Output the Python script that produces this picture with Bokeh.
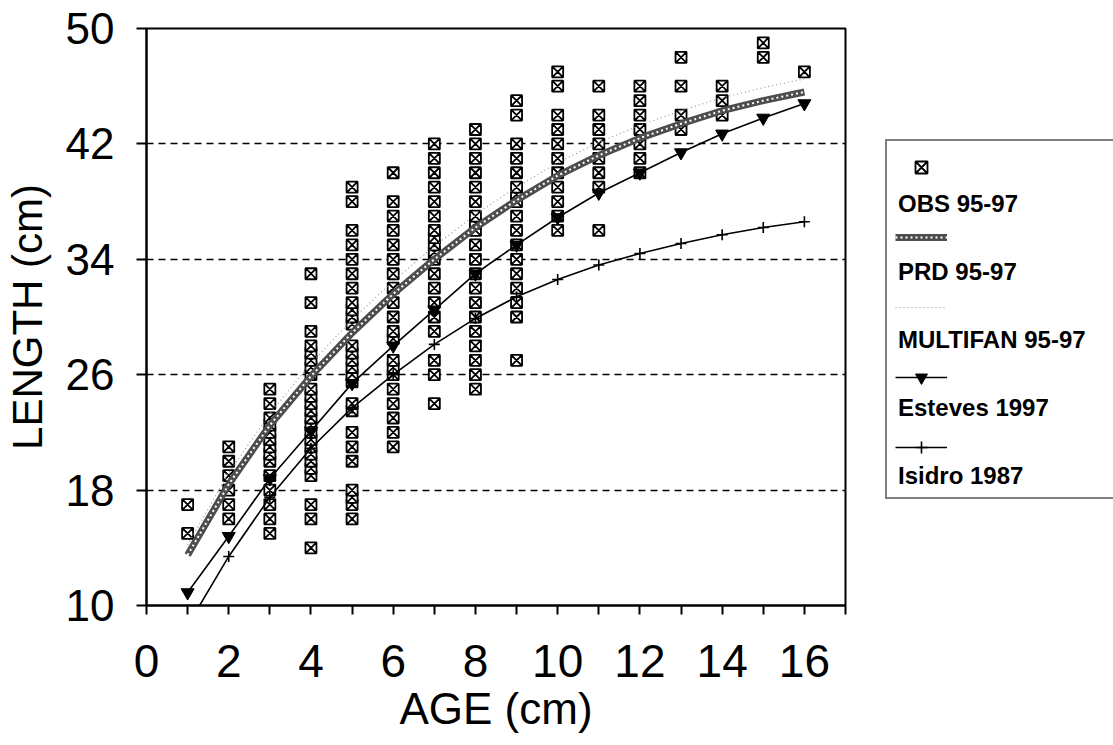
from bokeh.plotting import figure
from bokeh.models import Range1d, FixedTicker, Legend, LegendItem
from bokeh.layouts import row
from bokeh.embed import file_html
from bokeh.resources import INLINE

# ---------------- data ----------------
ages = list(range(1, 17))

obs_1 = [15, 17]
obs_2 = [16, 17, 18, 19, 20, 21]
obs_3 = [15, 16, 17, 18, 19, 20, 20.5, 21, 21.5, 22, 22.5, 23, 24, 25]
obs_4 = [14, 16, 17, 19, 19.5, 20, 20.5, 21, 21.5, 22, 22.5, 23, 23.5, 24,
         24.5, 25, 26, 26.5, 27, 27.5, 28, 29, 31, 33]
obs_5 = [16, 17, 17.5, 18, 20, 21, 22, 23.5, 24, 25.5, 26, 26.5, 27, 27.5,
         28, 29.5, 30, 30.5, 31, 32, 33, 34, 35, 36, 38, 39]
obs_6 = [21, 22, 23, 24, 25, 26, 26.5, 27, 28.5, 29, 30, 31, 32, 33, 34, 35,
         36, 37, 38, 40]
obs_7 = [24, 26, 27, 29, 30, 31, 32, 33, 34, 34.5, 35, 35.5, 36, 37, 38, 39,
         40, 41, 42]
obs_8 = [25, 26, 27, 28, 29, 30, 31, 32, 33, 34, 35, 36, 36.5, 37, 38, 39,
         40, 41, 42, 43]
obs_9 = [27, 30, 31, 32, 33, 34, 35, 36, 37, 38, 38.5, 39, 40, 41, 42, 44, 45]
obs_10 = [36, 37, 38, 39, 40, 41, 42, 43, 44, 46, 47]
obs_11 = [36, 39, 40, 41, 42, 43, 44, 46]
obs_12 = [40, 41, 42, 43, 44, 45, 46]
obs_13 = [43, 44, 46, 48]
obs_14 = [44, 45, 46]
obs_15 = [48, 49]
obs_16 = [47]
obs_columns = [obs_1, obs_2, obs_3, obs_4, obs_5, obs_6, obs_7, obs_8,
               obs_9, obs_10, obs_11, obs_12, obs_13, obs_14, obs_15, obs_16]

prd = [13.5, 18.4, 22.5, 25.9, 28.9, 31.6, 34.0, 36.2, 38.1, 39.8, 41.2,
       42.4, 43.4, 44.3, 45.0, 45.6]
multifan = [14.2, 19.2, 23.3, 26.8, 29.8, 32.5, 34.9, 37.1, 39.0, 40.7, 42.1,
            43.3, 44.3, 45.2, 45.9, 46.5]
esteves = [10.9, 14.8, 18.8, 22.1, 25.4, 28.0, 30.5, 33.0, 35.0, 36.9, 38.6,
           40.0, 41.4, 42.7, 43.8, 44.8]
isidro = [8.6, 13.4, 17.5, 20.9, 23.7, 26.0, 28.1, 29.9, 31.4, 32.6, 33.6,
          34.4, 35.1, 35.7, 36.2, 36.6]

series_labels = ["OBS 95-97", "PRD 95-97", "MULTIFAN 95-97", "Esteves 1997",
                 "Isidro 1987"]
x_ticks = [0, 2, 4, 6, 8, 10, 12, 14, 16]
x_minor_ticks = [1, 3, 5, 7, 9, 11, 13, 15, 17]
y_ticks = [10, 18, 26, 34, 42, 50]

obs_age = [a for a, col in zip(ages, obs_columns) for _ in col]
obs_len = [v for col in obs_columns for v in col]

FONT = "Liberation Sans"

# ---------------- styles ----------------
OBS_STYLE = dict(marker="square_x", size=11, line_color="black",
                 line_width=1.8, fill_color="white")
MULTI_STYLE = dict(line_color="#9a9a9a", line_width=1.2, line_dash="1 3")
PRD_STYLE = dict(line_color="#4d4d4d", line_width=7)
PRD2_STYLE = dict(line_color="white", line_width=2, line_dash="2 3")
LINE_STYLE = dict(line_color="black", line_width=1.6)
TRI_STYLE = dict(marker="inverted_triangle", size=13, fill_color="black",
                 line_color="black")
PLUS_STYLE = dict(marker="cross", size=11, line_color="black", line_width=1.6)

# ---------------- main figure ----------------
p = figure(width=870, height=745, x_range=Range1d(0, 17),
           y_range=Range1d(10, 50), output_backend="svg",
           toolbar_location=None, min_border_left=146, min_border_right=25,
           min_border_top=28, min_border_bottom=140)
p.background_fill_color = "white"
p.border_fill_color = "white"
p.outline_line_color = "black"
p.outline_line_width = 2

xa = p.xaxis[0]
xa.ticker = FixedTicker(ticks=x_ticks, minor_ticks=x_minor_ticks)
xa.axis_label = "AGE (cm)"
ya = p.yaxis[0]
ya.ticker = FixedTicker(ticks=y_ticks)
ya.axis_label = "LENGTH (cm)"
for ax in (xa, ya):
    ax.axis_line_width = 2
    ax.axis_line_color = "black"
    ax.major_tick_line_color = "black"
    ax.major_tick_line_width = 2
    ax.major_tick_in = 0
    ax.minor_tick_line_color = "black"
    ax.minor_tick_line_width = 2
    ax.minor_tick_in = 0
    ax.major_label_text_font = FONT
    ax.axis_label_text_font = FONT
    ax.axis_label_text_font_style = "normal"
    ax.major_label_text_color = "black"
    ax.axis_label_text_color = "black"
xa.major_tick_out = 9
xa.minor_tick_out = 9
xa.major_label_text_font_size = "46px"
xa.major_label_standoff = 30
xa.axis_label_text_font_size = "44px"
xa.axis_label_standoff = 4
ya.major_tick_out = 10
ya.minor_tick_out = 0
ya.major_label_text_font_size = "44px"
ya.major_label_standoff = 22
ya.axis_label_text_font_size = "42px"
ya.axis_label_standoff = 12

p.xgrid.visible = False
p.ygrid.ticker = FixedTicker(ticks=y_ticks)
p.ygrid.grid_line_color = "black"
p.ygrid.grid_line_width = 1.5
p.ygrid.grid_line_dash = "7 5"

p.scatter(obs_age, obs_len, **OBS_STYLE)
p.line(ages, multifan, **MULTI_STYLE)
p.line(ages, prd, **PRD_STYLE)
p.line(ages, prd, **PRD2_STYLE)
p.line(ages, esteves, **LINE_STYLE)
p.scatter(ages, esteves, **TRI_STYLE)
p.line(ages, isidro, **LINE_STYLE)
p.scatter(ages, isidro, **PLUS_STYLE)

# ---------------- legend panel ----------------
# same series, drawn in a panel whose ranges keep them out of view;
# only the legend of this panel is visible.
lf = figure(width=243, height=745, output_backend="svg",
            toolbar_location=None, x_axis_type=None, y_axis_type=None,
            min_border=0, x_range=Range1d(-20, -19), y_range=Range1d(-20, -19))
lf.outline_line_color = None
lf.background_fill_color = "white"
lf.border_fill_color = "white"
lf.grid.visible = False

l_obs = lf.scatter(obs_age, obs_len, **OBS_STYLE)
l_prd = lf.line(ages, prd, **PRD_STYLE)
l_prd2 = lf.line(ages, prd, **PRD2_STYLE)
l_multi = lf.line(ages, multifan, **MULTI_STYLE)
l_est_l = lf.line(ages, esteves, **LINE_STYLE)
l_est_m = lf.scatter(ages, esteves, **TRI_STYLE)
l_isi_l = lf.line(ages, isidro, **LINE_STYLE)
l_isi_m = lf.scatter(ages, isidro, **PLUS_STYLE)
dummy = lf.scatter(ages, isidro, size=1, fill_alpha=0, line_alpha=0)

sym_items = [
    LegendItem(label=" ", renderers=[l_obs]),
    LegendItem(label=" ", renderers=[l_prd, l_prd2]),
    LegendItem(label=" ", renderers=[l_multi]),
    LegendItem(label=" ", renderers=[l_est_l, l_est_m]),
    LegendItem(label=" ", renderers=[l_isi_l, l_isi_m]),
]
leg_sym = Legend(items=sym_items, location=(25, 143), glyph_width=52,
                 glyph_height=30, label_height=30, spacing=40, padding=0,
                 label_standoff=0, border_line_color=None,
                 background_fill_alpha=0, label_text_font_size="6px")
leg_txt = Legend(items=[LegendItem(label=t, renderers=[dummy])
                        for t in series_labels],
                 location=(15, 106), glyph_width=0, glyph_height=30,
                 label_height=30, label_width=230, spacing=38, padding=6,
                 label_standoff=5, border_line_color="black",
                 border_line_width=2, background_fill_alpha=0,
                 label_text_font=FONT, label_text_font_style="bold",
                 label_text_font_size="24px", label_text_color="black",
                 title=" ", title_text_font_size="37px", title_standoff=0)
lf.add_layout(leg_txt)
lf.add_layout(leg_sym)

layout = row(p, lf)
open("out.html", "w").write(file_html(layout, INLINE))
